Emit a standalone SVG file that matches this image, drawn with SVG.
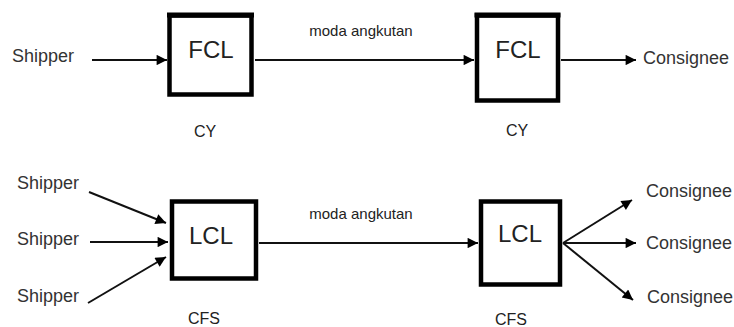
<svg xmlns="http://www.w3.org/2000/svg" width="734" height="327" viewBox="0 0 734 327">
<defs>
<marker id="ah" viewBox="0 0 10 10" refX="10" refY="5" markerWidth="6" markerHeight="5.2" markerUnits="strokeWidth" orient="auto">
<path d="M0,0 L10,5 L0,10 Z" fill="#000"/>
</marker>
<style>
.box{fill:#fff;stroke:#000;stroke-width:4.5}
.ln{stroke:#111;stroke-width:2;fill:none;marker-end:url(#ah)}
.big{font-family:"Liberation Sans",Arial,sans-serif;font-size:24px;fill:#222;text-anchor:middle}
.lab{font-family:"Liberation Sans",Arial,sans-serif;font-size:18px;fill:#333}
.sm{font-family:"Liberation Sans",Arial,sans-serif;font-size:15px;fill:#222;text-anchor:middle}
.st{font-family:"Liberation Sans",Arial,sans-serif;font-size:16px;fill:#222;text-anchor:middle}
</style>
</defs>
<rect width="734" height="327" fill="#fff"/>
<g id="connectors">
<line class="ln" x1="92" y1="60" x2="167" y2="60"/>
<line class="ln" x1="255" y1="60" x2="474" y2="60"/>
<line class="ln" x1="561" y1="60" x2="636" y2="60"/>
<line class="ln" x1="89" y1="192" x2="166" y2="223"/>
<line class="ln" x1="90" y1="242" x2="168" y2="242"/>
<line class="ln" x1="88" y1="303" x2="166" y2="257"/>
<line class="ln" x1="259" y1="243" x2="478" y2="243"/>
<line class="ln" x1="563" y1="243" x2="632" y2="200"/>
<line class="ln" x1="563" y1="243" x2="636" y2="243"/>
<line class="ln" x1="563" y1="243" x2="633" y2="300"/>
</g>
<g id="fcl1">
<rect class="box" x="169.5" y="15.5" width="82" height="79"/>
<line x1="167" y1="15" x2="254" y2="15" stroke="#000" stroke-width="5"/>
<text class="big" x="211" y="58">FCL</text>
</g>
<g id="fcl2">
<rect class="box" x="477" y="15.5" width="81" height="85"/>
<line x1="474.5" y1="15" x2="560.5" y2="15" stroke="#000" stroke-width="5"/>
<text class="big" x="518" y="58">FCL</text>
</g>
<g id="lcl1">
<rect class="box" x="172" y="201.5" width="84" height="77"/>
<text class="big" x="211" y="244">LCL</text>
</g>
<g id="lcl2">
<rect class="box" x="481" y="201.5" width="79" height="83"/>
<text class="big" x="520" y="242">LCL</text>
</g>
<g id="labels">
<text class="lab" x="12" y="62">Shipper</text>
<text class="lab" x="643" y="64">Consignee</text>
<text class="sm" x="361" y="36">moda angkutan</text>
<text class="st" x="205" y="137">CY</text>
<text class="st" x="517" y="136">CY</text>
<text class="lab" x="17" y="189">Shipper</text>
<text class="lab" x="17" y="245">Shipper</text>
<text class="lab" x="17" y="302">Shipper</text>
<text class="sm" x="361" y="219">moda angkutan</text>
<text class="st" x="204" y="324">CFS</text>
<text class="st" x="511" y="325">CFS</text>
<text class="lab" x="646" y="197">Consignee</text>
<text class="lab" x="646" y="249">Consignee</text>
<text class="lab" x="647" y="303">Consignee</text>
</g>
</svg>
